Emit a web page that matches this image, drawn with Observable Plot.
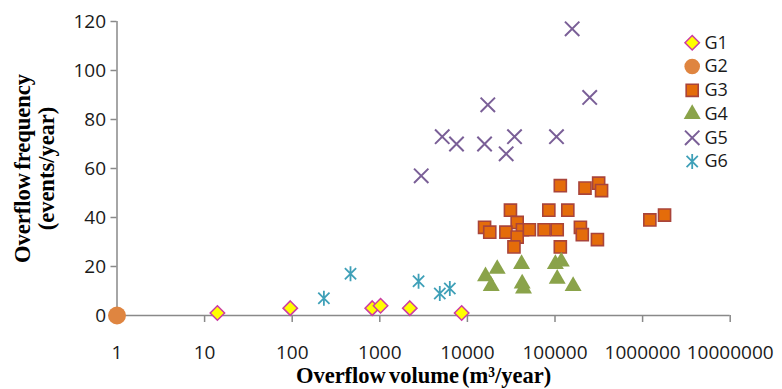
<!DOCTYPE html>
<html><head><meta charset="utf-8">
<script src="https://cdn.jsdelivr.net/npm/d3@7"></script>
<script src="https://cdn.jsdelivr.net/npm/@observablehq/plot@0.6"></script>
<style>
html,body{margin:0;padding:0;background:#fff;}
.ttl{word-spacing:-2.5px;}
g[aria-label="x-axis"] line, g[aria-label="y-axis"] line, g[aria-label="x-axis"] path, g[aria-label="y-axis"] path,
g[aria-label="x-axis tick"], g[aria-label="y-axis tick"]{stroke:#898989;stroke-width:1.5px;}
</style></head><body><div id="chart"></div>
<script>
// ---- data ----
const groups = ["G1", "G2", "G3", "G4", "G5", "G6"];
const g1Volume = [14, 95, 820, 1020, 2200, 8600];
const g1Freq   = [1, 3, 3, 4, 3, 1];
const g2Volume = [1];
const g2Freq   = [0];
const g3Volume = [115000, 220000, 315000, 340000, 31000, 85000, 140000, 15700, 18000, 37000, 27500, 42500, 51000, 75000, 106000, 195000, 205000, 305000, 37000, 34000, 115000, 1210000, 1780000];
const g3Freq   = [53, 52, 54, 51, 43, 43, 43, 36, 34, 38, 34, 35, 35, 35, 35, 36, 33, 31, 32, 28, 28, 39, 41];
const g4Volume = [16100, 21900, 18700, 41500, 42200, 43700, 101000, 118000, 106000, 161000];
const g4Freq   = [16, 19, 12, 21, 13, 11, 21, 22, 15, 12];
const g5Volume = [157000, 249000, 17100, 5160, 7510, 15700, 34500, 27700, 104000, 2970];
const g5Freq   = [117, 89, 86, 73, 70, 70, 73, 66, 73, 57];
const g6Volume = [230, 463, 2770, 4840, 6300];
const g6Freq   = [7, 17, 14, 9, 11];
const xTicks = [1, 10, 100, 1000, 10000, 100000, 1000000, 10000000];
const yTicks = [0, 20, 40, 60, 80, 100, 120];
const xTitle = "Overflow volume (m³/year)";
const yTitle = "Overflow frequency\n(events/year)";

// ---- build table ----
const series = {G1: [g1Volume, g1Freq], G2: [g2Volume, g2Freq], G3: [g3Volume, g3Freq],
                G4: [g4Volume, g4Freq], G5: [g5Volume, g5Freq], G6: [g6Volume, g6Freq]};

// Excel-like star: vertical bar + X
const excelStar = {
  draw(ctx, size) {
    const r = Math.sqrt(size / Math.PI);
    const d = r * 0.75;
    ctx.moveTo(0, -r); ctx.lineTo(0, r);
    ctx.moveTo(-d, -d); ctx.lineTo(d, d);
    ctx.moveTo(-d, d); ctx.lineTo(d, -d);
  }
};
const excelX = {
  draw(ctx, size) {
    const r = Math.sqrt(size / Math.PI) * 0.72;
    ctx.moveTo(-r, -r); ctx.lineTo(r, r);
    ctx.moveTo(-r, r); ctx.lineTo(r, -r);
  }
};

const styles = {
  G1: {symbol: "diamond2", r: 6.5, fill: "#ffff00", stroke: "#cc3ca3", strokeWidth: 1.5},
  G2: {symbol: "circle", r: 9, fill: "#df8540", stroke: "none", strokeWidth: 0},
  G3: {symbol: "square", r: 6.8, fill: "#e46c0a", stroke: "#a9443a", strokeWidth: 1.6},
  G4: {symbol: "triangle", r: 6.3, fill: "#8aa34a", stroke: "none", strokeWidth: 0},
  G5: {symbol: excelX, r: 10, fill: "none", stroke: "#7a5f97", strokeWidth: 2},
  G6: {symbol: excelStar, r: 7.5, fill: "none", stroke: "#3fa0b8", strokeWidth: 1.8}
};

const marks = [
  Plot.ruleX([1], {stroke: "#898989", strokeWidth: 1.5}),
  Plot.ruleY([0], {stroke: "#898989", strokeWidth: 1.5})
];
groups.forEach((g) => {
  const [vs, fs] = series[g];
  const rows = vs.map((v, j) => ({group: g, volume: v, freq: fs[j]}));
  marks.push(Plot.dot(rows, {x: "volume", y: "freq", ...styles[g]}));
});
groups.forEach((g, i) => {
  const s = styles[g];
  const dy = 21.3 + i * 23.75;
  const legendR = g === "G2" ? 7.8 : s.r;
  marks.push(Plot.dot([g], {frameAnchor: "top-right", dx: -38, dy, ...s, r: legendR}));
  marks.push(Plot.text([g], {frameAnchor: "top-right", dx: -25.7, dy, text: d => d,
    textAnchor: "start", lineAnchor: "middle", fontSize: 18, fill: "#1a1a1a"}));
});
marks.push(Plot.text([xTitle], {frameAnchor: "bottom", dy: 60, text: d => d, className: "ttl",
  textAnchor: "middle", lineAnchor: "middle",
  fontFamily: "Liberation Serif", fontWeight: "bold", fontSize: 22.5, fill: "#000"}));
marks.push(Plot.text([yTitle], {frameAnchor: "left", dx: -82.5, rotate: -90, text: d => d, className: "ttl",
  textAnchor: "middle", lineAnchor: "middle", lineHeight: 1.07,
  fontFamily: "Liberation Serif", fontWeight: "bold", fontSize: 22.5, fill: "#000"}));

const chart = Plot.plot({
  width: 782,
  height: 389,
  marginLeft: 116.5,
  marginRight: 52.3,
  marginTop: 21,
  marginBottom: 74,
  style: {fontFamily: "Open Sans", fontSize: "19px", color: "#1a1a1a", background: "#fff", overflow: "visible"},
  x: {type: "log", domain: [1, 10000000], ticks: xTicks, tickFormat: d3.format("d"), tickSize: 7, tickPadding: 23, label: null},
  y: {domain: [0, 120], ticks: yTicks, tickSize: 6, tickPadding: 5, label: null},
  marks
});
document.getElementById("chart").appendChild(chart);
</script></body></html>
